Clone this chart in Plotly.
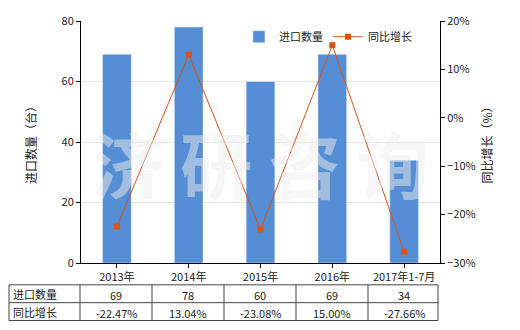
import plotly.graph_objects as go

categories = ["2013年", "2014年", "2015年", "2016年", "2017年1-7月"]
import_qty = [69, 78, 60, 69, 34]
yoy_growth = [-22.47, 13.04, -23.08, 15.00, -27.66]
row_labels = ["进口数量", "同比增长"]

BAR = "#558ED5"
LINE = "#D4541A"
FONT = "Microsoft YaHei, Noto Sans CJK SC, sans-serif"

fig = go.Figure()
fig.add_trace(go.Bar(x=categories, y=import_qty, name="进口数量", marker_color=BAR,
                     width=0.4, yaxis="y"))
fig.add_trace(go.Scatter(x=categories, y=yoy_growth, name="同比增长", mode="lines+markers",
                         line=dict(color=LINE, width=1),
                         marker=dict(symbol="square", size=6, color=LINE), yaxis="y2"))

L, R, T, B = 81, 80, 19, 67
W, H = 520, 330
pw = W - L - R
ph = H - T - B

fig.update_layout(
    width=W, height=H,
    margin=dict(l=L, r=R, t=T, b=B),
    paper_bgcolor="white", plot_bgcolor="white",
    font=dict(family=FONT, size=11, color="#222"),
    showlegend=True,
    legend=dict(orientation="h", x=0.44, y=0.995, xanchor="left", yanchor="top",
                bgcolor="rgba(0,0,0,0)", font=dict(size=11), itemwidth=30,
                tracegroupgap=0),
    bargap=0.6,
    xaxis=dict(showline=True, linecolor="black", linewidth=1, ticks="outside",
               ticklen=4, tickcolor="black", showgrid=False, tickfont=dict(size=11),
               range=[-0.5, 4.5]),
    yaxis=dict(range=[0, 80], dtick=20, showline=True, linecolor="black", linewidth=1,
               ticks="outside", ticklen=4, tickcolor="black", showgrid=True,
               gridcolor="#E6E6E6", zeroline=False,
               title=dict(text="进口数量（台）", font=dict(size=12), standoff=22)),
    yaxis2=dict(range=[-30, 20], dtick=10, overlaying="y", side="right", showline=True,
                linecolor="black", linewidth=1, ticks="outside", ticklen=4,
                tickcolor="black", ticksuffix="%", showgrid=False, zeroline=False,
                title=dict(text="同比增长（%）", font=dict(size=12), standoff=8)),
)

# watermark
fig.add_annotation(text="<b>济 研 咨 询</b>", xref="paper", yref="paper", x=0.5, y=0.42,
                   showarrow=False, font=dict(size=72, color="rgba(238,238,238,0.5)",
                                              family=FONT))

# table
tx0, tx1 = 9, 438
ty = [285, 303, 321]
col_w = (440 - 80) / len(categories)
cols = [tx0] + [80 + i * col_w for i in range(len(categories))] + [tx1]
cols[-1] = tx1

def px(x):
    return (x - L) / pw

def py(y):
    return (H - B - y) / ph

lc = "#444"
for y in ty:
    fig.add_shape(type="line", xref="paper", yref="paper", x0=px(tx0), x1=px(tx1),
                  y0=py(y), y1=py(y), line=dict(color=lc, width=1))
for x in cols:
    fig.add_shape(type="line", xref="paper", yref="paper", x0=px(x), x1=px(x),
                  y0=py(ty[0]), y1=py(ty[2]), line=dict(color=lc, width=1))

rows = [[str(v) for v in import_qty], ["%.2f%%" % v for v in yoy_growth]]
for r in range(2):
    yc = (ty[r] + ty[r + 1]) / 2
    fig.add_annotation(text=row_labels[r], xref="paper", yref="paper", x=px(tx0 + 2),
                       y=py(yc), xanchor="left", yanchor="middle", showarrow=False,
                       font=dict(size=11))
    for i in range(len(categories)):
        xc = 80 + (i + 0.5) * col_w
        fig.add_annotation(text=rows[r][i], xref="paper", yref="paper", x=px(xc),
                           y=py(yc + 1), xanchor="center", yanchor="middle",
                           showarrow=False, font=dict(size=11))

fig.write_html("out.html")
